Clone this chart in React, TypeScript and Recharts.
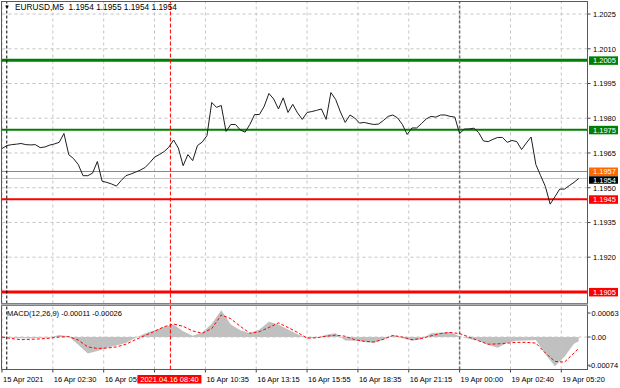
import React from 'react';
import { ComposedChart, Line, Area, XAxis, YAxis, ReferenceLine } from 'recharts';

const FONT = '"Liberation Sans", Arial, sans-serif';

// EURUSD M5 closes, one reading every 3 bars
const BAR_STEP = 3;
const closes = [
  1.19669, 1.19682, 1.19686, 1.19688, 1.19691, 1.19686, 1.19685, 1.19686, 1.19673, 1.19676,
  1.19684, 1.19689, 1.19696, 1.19734, 1.19643, 1.19626, 1.19600, 1.19552, 1.19552, 1.19563,
  1.19613, 1.19528, 1.19523, 1.19516, 1.19507, 1.19531, 1.19552, 1.19559, 1.19567, 1.19576,
  1.19587, 1.19608, 1.19632, 1.19643, 1.19656, 1.19675, 1.19706, 1.19671, 1.19595, 1.19643,
  1.19617, 1.19682, 1.19697, 1.19725, 1.19868, 1.19847, 1.19855, 1.19743, 1.19773, 1.19773,
  1.19749, 1.19740, 1.19773, 1.19816, 1.19816, 1.19851, 1.19907, 1.19883, 1.19840, 1.19888,
  1.19825, 1.19860, 1.19823, 1.19795, 1.19825, 1.19829, 1.19834, 1.19840, 1.19795, 1.19911,
  1.19881, 1.19827, 1.19782, 1.19814, 1.19801, 1.19779, 1.19782, 1.19777, 1.19773, 1.19775,
  1.19790, 1.19808, 1.19814, 1.19801, 1.19773, 1.19730, 1.19758, 1.19758, 1.19777, 1.19797,
  1.19808, 1.19805, 1.19814, 1.19814, 1.19808, 1.19805, 1.19734, 1.19753, 1.19754, 1.19757,
  1.19738, 1.19702, 1.19699, 1.19709, 1.19717, 1.19717, 1.19696, 1.19704, 1.19699, 1.19665,
  1.19693, 1.19719, 1.19600, 1.19552, 1.19505, 1.19429, 1.19461, 1.19494, 1.19494, 1.19509,
  1.19523, 1.19540,
];

// MACD(12,26,9), one reading every 6 bars, last one at the final bar
const MACD_STEP = 6;
const macdHist = [
  0, -0.00002, -0.00003, -0.00003, -0.00002, -0.00001, 0.00005, 0.00002, -0.0002, -0.00043,
  -0.00037, -0.00028, -0.00022, -0.00016, -0.00002, 0.00009, 0.00018, 0.00026, 0.00033, 0.00015,
  0.00003, 0.00012, 0.00035, 0.0007, 0.00033, 0.00018, 0.0001, 0.0002, 0.0004, 0.00033,
  0.0002, 0.00007, -0.00003, -0.00002, 0.00006, 0.0001, -0.00009, -0.0001, -0.00013, -0.00016,
  -0.00007, 0.00006, -0.00003, -0.0001, -0.00006, 0.0001, 0.00012, 0.00013, 0.00002, -0.00005,
  -0.0001, -0.00021, -0.00028, -0.00015, -0.0001, -0.00009, -0.00008, -0.00045, -0.00077, -0.00052,
  -0.00018, -0.00011,
];
const macdSignal = [
  0, -0.00004, -0.00007, -0.00006, -0.00005, -0.00003, 0, 0.00001, -0.00008, -0.00026,
  -0.0003, -0.00029, -0.00026, -0.00019, -0.00007, 0.00004, 0.00015, 0.00027, 0.00034, 0.00028,
  0.00016, 0.0001, 0.00022, 0.00058, 0.00048, 0.00028, 0.0001, 0.00014, 0.00025, 0.00037,
  0.00025, 0.00012, -0.00003, -0.00002, 0.00002, 0.00005, 0.00002, -0.00007, -0.00011, -0.00013,
  -0.00006, 0.00004, 0, -0.00007, -0.00004, 0.00003, 0.00009, 0.00012, 0.00009, 0,
  -0.0001, -0.00019, -0.00018, -0.00016, -0.00014, -0.00014, -0.00016, -0.00042, -0.00064, -0.00066,
  -0.00042, -0.0003,
];

const timeTicks = [0, 32, 64, 96, 128, 160, 192, 224, 256, 288, 320, 352];
const timeLabels = [
  '15 Apr 2021', '16 Apr 02:30', '16 Apr 05:10', '16 Apr 07:50', '16 Apr 10:35', '16 Apr 13:15',
  '16 Apr 15:55', '16 Apr 18:35', '16 Apr 21:15', '19 Apr 00:00', '19 Apr 02:40', '19 Apr 05:20',
];
const cursorBar = 106;
const cursorLabel = '2021.04.16 08:40';
const daySeparatorBars = [3, 288];

const priceTicks = [1.2025, 1.201, 1.1995, 1.198, 1.1965, 1.195, 1.1935, 1.192];
const priceGrid = [1.2025, 1.201, 1.1995, 1.198, 1.1965, 1.195, 1.1935, 1.192, 1.1905];
const levelPrices = [1.2005, 1.1975, 1.1957, 1.1945, 1.1905];
const bidPrice = 1.1954;
const macdTicks = [0.00063, 0, -0.00074];
const macdTickLabels = ['0.00063', '0.00', '-0.00074'];

const title = 'EURUSD,M5  1.1954 1.1955 1.1954 1.1954';
const macdTitle = 'MACD(12,26,9) -0.00011 -0.00026';

const levelStyle: Record<string, { color: string; width: number }> = {
  '1.2005': { color: '#008000', width: 3 },
  '1.1975': { color: '#008000', width: 2 },
  '1.1957': { color: '#ff6a00', width: 1 },
  '1.1945': { color: '#ff0000', width: 2 },
  '1.1905': { color: '#ff0000', width: 3 },
};

const lastBar = (closes.length - 1) * BAR_STEP;
const priceData = closes.map((c, i) => ({ bar: i * BAR_STEP, close: c }));
const macdData = macdHist.map((h, j) => ({
  bar: j === macdHist.length - 1 ? lastBar : j * MACD_STEP,
  hist: h,
  signal: macdSignal[j],
}));

const X_DOMAIN: [number, number] = [0, 368.5];
const GRID = '#c4c4c4';

const PriceTick = (props: any) => {
  const { x, y, payload } = props;
  const v: number = payload.value;
  const key = v.toFixed(4);
  if (levelStyle[key]) {
    return (
      <g>
        <rect x={x + 1.5} y={y - 4} width={29} height={8.5} fill={levelStyle[key].color} />
        <text x={x + 5.5} y={y + 0.3} dominantBaseline="central" fontSize={7.5} fontFamily={FONT} fill="#fff">{key}</text>
      </g>
    );
  }
  if (Math.abs(v - bidPrice) < 1e-9) {
    return (
      <g>
        <rect x={x + 1.5} y={y - 2.2} width={29} height={7.5} fill="#000" />
        <text x={x + 5.5} y={y + 1.6} dominantBaseline="central" fontSize={7.5} fontFamily={FONT} fill="#fff">{key}</text>
      </g>
    );
  }
  return (
    <g>
      <line x1={x} x2={x + 3} y1={y} y2={y} stroke="#404040" />
      <text x={x + 5.5} y={y + 0.3} dominantBaseline="central" fontSize={7.5} fontFamily={FONT} fill="#000">{key}</text>
    </g>
  );
};

const MacdTick = (props: any) => {
  const { x, y, payload } = props;
  const v: number = payload.value;
  const i = macdTicks.indexOf(v);
  return (
    <g>
      <line x1={x} x2={x + 3} y1={y} y2={y} stroke="#404040" />
      <text x={v < 0 ? x + 1 : x + 4} y={y + 0.3} dominantBaseline="central" fontSize={7.5} fontFamily={FONT} fill="#000">{macdTickLabels[i]}</text>
    </g>
  );
};

const TimeTick = (props: any) => {
  const { x, y, payload } = props;
  const v: number = payload.value;
  if (v === cursorBar) {
    return (
      <g>
        <rect x={x - 33} y={y + 5.5} width={64} height={8.5} fill="#ff0000" />
        <text x={x - 1} y={y + 12.6} textAnchor="middle" fontSize={7.5} fontFamily={FONT} fill="#fff">{cursorLabel}</text>
      </g>
    );
  }
  const i = timeTicks.indexOf(v);
  // the label lying fully under the cursor box is hidden, as in the terminal
  const hidden = Math.abs(v - cursorBar) < 16;
  return (
    <g>
      <line x1={x} x2={x} y1={y} y2={y + 3} stroke="#404040" />
      {hidden ? null : (
        <text x={x + 1} y={y + 12.6} textAnchor="start" fontSize={7.5} fontFamily={FONT} fill="#000">{timeLabels[i]}</text>
      )}
    </g>
  );
};

const verticalMarkers = [
  <ReferenceLine key="sep0" x={daySeparatorBars[0]} stroke="#000" strokeDasharray="3 2" strokeWidth={1} />,
  <ReferenceLine key="sep1" x={daySeparatorBars[1]} stroke="#707070" strokeDasharray="3 2" strokeWidth={1.5} />,
  <ReferenceLine key="cur" x={cursorBar} stroke="#ff0000" strokeDasharray="4 2" strokeWidth={1} />,
];

export default function App() {
  return (
    <div style={{ position: 'absolute', left: 0, top: 0, width: 620, height: 388, background: '#fff', overflow: 'hidden' }}>
      <div style={{ position: 'absolute', left: 0, top: 0 }}>
        <ComposedChart width={620} height={306} data={priceData} margin={{ top: 2, right: 0, bottom: 2.5, left: 2 }}>
          <XAxis dataKey="bar" type="number" domain={X_DOMAIN} hide allowDataOverflow />
          <YAxis
            orientation="right"
            type="number"
            width={32.5}
            domain={[1.19, 1.20302]}
            allowDataOverflow
            ticks={[...priceTicks, ...levelPrices, bidPrice]}
            interval={0}
            axisLine={false}
            tickLine={false}
            tickSize={0}
            tickMargin={0}
            tick={<PriceTick />}
          />
          {priceGrid.map((p) => (
            <ReferenceLine key={'gy' + p} y={p} stroke={GRID} strokeDasharray="3 3" />
          ))}
          {timeTicks.map((t) => (
            <ReferenceLine key={'gx' + t} x={t} stroke={GRID} strokeDasharray="3 3" />
          ))}
          <ReferenceLine y={bidPrice} stroke="#c0c0c0" strokeWidth={1} />
          {levelPrices.map((p) => (
            <ReferenceLine key={'lv' + p} y={p} stroke={levelStyle[p.toFixed(4)].color} strokeWidth={levelStyle[p.toFixed(4)].width} />
          ))}
          {verticalMarkers}
          <Line dataKey="close" type="linear" stroke="#1e1e1e" strokeWidth={1} dot={false} isAnimationActive={false} />
        </ComposedChart>
      </div>
      <div style={{ position: 'absolute', left: 0, top: 306 }}>
        <ComposedChart width={620} height={82} data={macdData} margin={{ top: 0, right: 0, bottom: 0, left: 2 }}>
          <XAxis
            dataKey="bar"
            type="number"
            domain={X_DOMAIN}
            allowDataOverflow
            height={18.5}
            ticks={[...timeTicks, cursorBar]}
            interval={0}
            axisLine={false}
            tickLine={false}
            tickSize={0}
            tickMargin={0}
            tick={<TimeTick />}
          />
          <YAxis
            orientation="right"
            type="number"
            width={32.5}
            domain={[-0.000853, 0.000814]}
            allowDataOverflow
            ticks={macdTicks}
            interval={0}
            axisLine={false}
            tickLine={false}
            tickSize={0}
            tickMargin={0}
            tick={<MacdTick />}
          />
          {timeTicks.map((t) => (
            <ReferenceLine key={'mgx' + t} x={t} stroke={GRID} strokeDasharray="3 3" />
          ))}
          <ReferenceLine y={0} stroke={GRID} strokeDasharray="3 3" />
          <Area dataKey="hist" type="linear" baseValue={0} fill="#c0c0c0" fillOpacity={1} stroke="none" isAnimationActive={false} />
          {verticalMarkers}
          <Line dataKey="signal" type="linear" stroke="#ff0000" strokeDasharray="3 2" strokeWidth={1} dot={false} isAnimationActive={false} />
        </ComposedChart>
      </div>
      {/* frame and panel separator */}
      <div style={{ position: 'absolute', left: 1, top: 1, width: 585, height: 367, border: '1px solid #5a5a5a', pointerEvents: 'none' }} />
      <div style={{ position: 'absolute', left: 1, top: 303, width: 587, height: 1, borderTop: '1px solid #808080', borderBottom: '1px solid #808080', background: '#b0b0b0' }} />
      <div style={{ position: 'absolute', left: 4, top: 3, fontSize: 6, lineHeight: '8px', fontFamily: FONT, color: '#000' }}>▼</div>
      <div style={{ position: 'absolute', left: 15, top: 1.5, fontSize: 8.3, lineHeight: '10px', fontFamily: FONT, color: '#000', whiteSpace: 'pre' }}>{title}</div>
      <div style={{ position: 'absolute', left: 7, top: 309, fontSize: 7.5, lineHeight: '10px', fontFamily: FONT, color: '#000', whiteSpace: 'pre' }}>{macdTitle}</div>
    </div>
  );
}
